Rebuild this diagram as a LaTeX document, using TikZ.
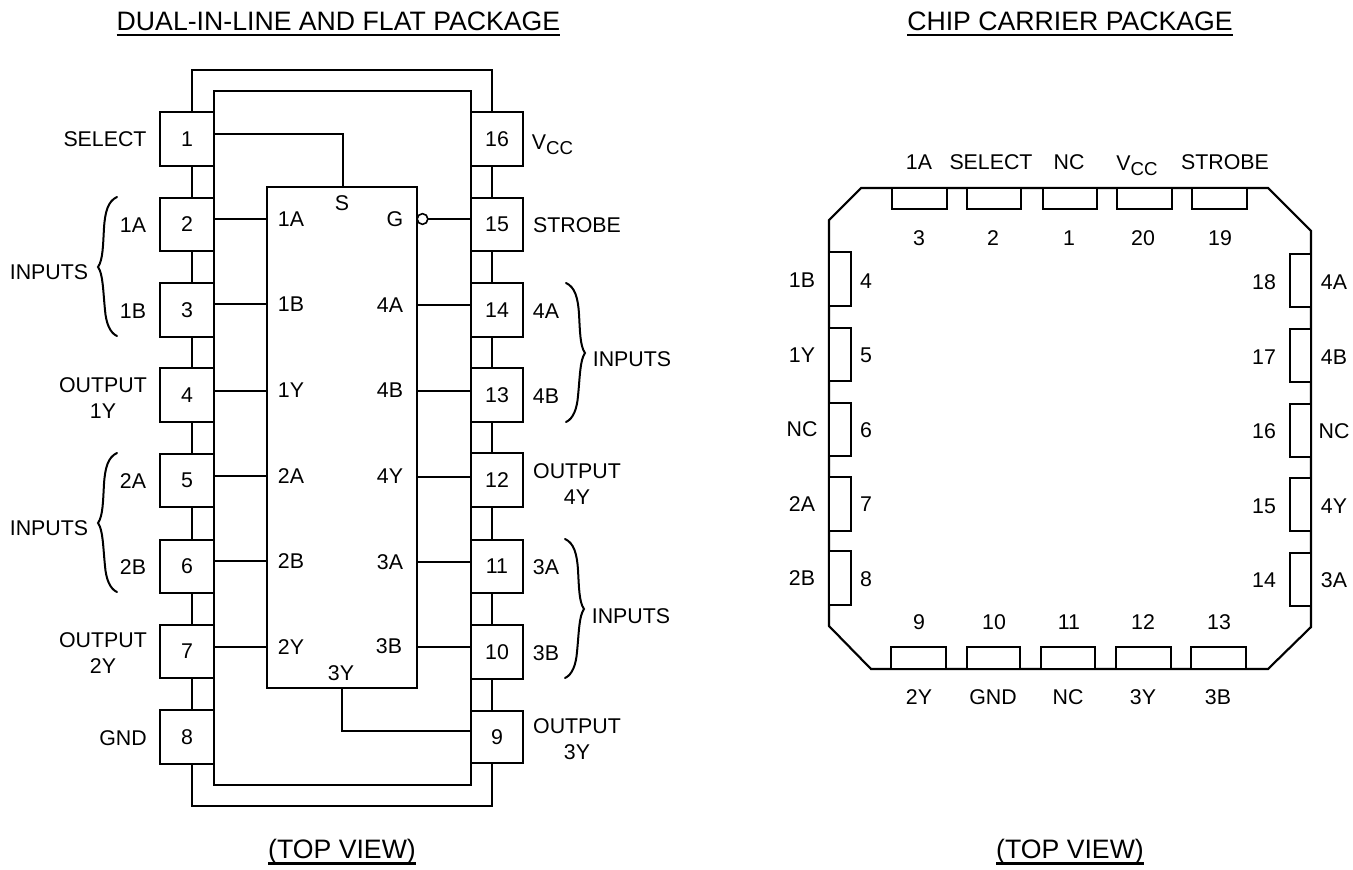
\documentclass[tikz,border=0pt]{standalone}
\usepackage{fontspec}
\setmainfont{Liberation Sans}
\newcommand{\vcc}{V\raisebox{-0.45ex}{\fontsize{14}{14}\selectfont CC}}
\newsavebox{\ttlbox}
\newcommand{\ttl}[1]{\fontsize{20}{24}\selectfont\sbox{\ttlbox}{#1}\rlap{\smash{\raisebox{-4.2pt}{\rule{\wd\ttlbox}{1.7pt}}}}\usebox{\ttlbox}}
\tikzset{
  lbl/.style={inner sep=0pt,outer sep=0pt,align=center,font=\fontsize{16}{19}\selectfont},
  wire/.style={line width=1.7pt,line cap=rect},
  thin wire/.style={line width=1.3pt},
  pinbox/.style={draw,fill=white,line width=1.6pt,inner sep=0pt,outer sep=0pt,font=\fontsize{16}{19}\selectfont},
  bracecurve/.style={line width=1.5pt,line cap=round}
}
\newcommand{\pinnode}[6]{%
  \node[pinbox,minimum width={(#4-#2)*0.75pt},minimum height={(#5-#3)*0.75pt}] (#1) at ({(#2+#4)/2},{(#3+#5)/2}) {#6};}
\newcommand{\bracepath}{(19,-70) .. controls (10,-66) and (7,-55) .. (6,-39) .. controls (5,-22) and (5,-7) .. (0,0) .. controls (5,7) and (5,23) .. (7,43) .. controls (8,56) and (12,66) .. (19,69)}
\begin{document}
\begin{tikzpicture}[x=0.75pt,y=-0.75pt]
\useasboundingbox (0,0) rectangle (1353,870);
% ---------- dual-in-line package
\coordinate (fl) at (192,70);
\coordinate (fr) at (492,806);
\node[draw,line width=1.6pt,inner sep=0pt,outer sep=0pt,minimum width={257*0.75pt},minimum height={694*0.75pt}] (body) at (342.5,438) {};
\node[draw,fill=white,line width=1.6pt,inner sep=0pt,outer sep=0pt,minimum width={150*0.75pt},minimum height={501*0.75pt}] (chip) at (342,437.5) {};
\pinnode{p1}{160}{112}{214}{166}{1}
\pinnode{p2}{160}{198}{214}{251}{2}
\pinnode{p3}{160}{283}{214}{337}{3}
\pinnode{p4}{160}{368}{214}{422}{4}
\pinnode{p5}{160}{454}{214}{507}{5}
\pinnode{p6}{160}{540}{214}{593}{6}
\pinnode{p7}{160}{625}{214}{678}{7}
\pinnode{p8}{160}{710}{214}{764}{8}
\pinnode{p16}{471}{112}{523}{166}{16}
\pinnode{p15}{471}{198}{523}{251}{15}
\pinnode{p14}{471}{283}{523}{337}{14}
\pinnode{p13}{471}{368}{523}{422}{13}
\pinnode{p12}{471}{453}{523}{507}{12}
\pinnode{p11}{471}{540}{523}{593}{11}
\pinnode{p10}{471}{625}{523}{679}{10}
\pinnode{p9}{471}{711}{523}{763}{9}
% outer frame
\draw[wire] (fl |- p1.north) -- (fl) -| (fr |- p16.north);
\draw[wire] (fl |- p8.south) -- (fl |- fr) -- (fr) -- (fr |- p9.south);
\foreach \a/\b in {p1/p2,p2/p3,p3/p4,p4/p5,p5/p6,p6/p7,p7/p8}
  \draw[wire] (fl |- \a.south) -- (fl |- \b.north);
\foreach \a/\b in {p16/p15,p15/p14,p14/p13,p13/p12,p12/p11,p11/p10,p10/p9}
  \draw[wire] (fr |- \a.south) -- (fr |- \b.north);
% inner connections
\coordinate (sel) at (343,134);
\draw[thin wire] (sel -| p1.east) -- (sel) -- (sel |- chip.north);
\foreach \p/\y in {p2/219,p3/304,p4/391,p5/476,p6/561,p7/647}
  \draw[thin wire] (chip.west |- 0,\y) -- (\p.east |- 0,\y);
\foreach \p/\y in {p14/305,p13/391,p12/477,p11/562,p10/647}
  \draw[thin wire] (chip.east |- 0,\y) -- (\p.west |- 0,\y);
\node[circle,draw,fill=white,line width=1.2pt,inner sep=0pt,outer sep=0pt,minimum size=8pt] (bub) at (422.5,219) {};
\draw[thin wire] (bub.east) -- (bub.east -| p15.west);
\coordinate (oy) at (342,731);
\draw[thin wire] (oy |- chip.south) -- (oy) -- (oy -| p9.west);
% braces
\begin{scope}[shift={(98,267)}]\draw[bracecurve] \bracepath;\end{scope}
\begin{scope}[shift={(98,523)}]\draw[bracecurve] \bracepath;\end{scope}
\begin{scope}[shift={(585,353)},xscale=-1]\draw[bracecurve] \bracepath;\end{scope}
\begin{scope}[shift={(584,609)},xscale=-1]\draw[bracecurve] \bracepath;\end{scope}
% ---------- chip carrier
\draw[line width=1.6pt,line join=miter] (861,188) coordinate (oa) -- (1268,188) -- (1311,231) -- (1311,627) -- (1268,669) -- (871,669) -- (829,626) -- (829,220) -- cycle;
\foreach \n/\a/\b in {c3/892/947,c2/967/1021,c1/1043/1097,c20/1117/1172,c19/1192/1247}
  {\pinnode{\n}{\a}{188}{\b}{209}{}}
\foreach \n/\a/\b in {c9/891/946,c10/967/1020,c11/1041/1095,c12/1116/1171,c13/1191/1246}
  {\pinnode{\n}{\a}{647}{\b}{669}{}}
\foreach \n/\a/\b in {c4/252/306,c5/328/381,c6/403/456,c7/477/531,c8/551/605}
  {\pinnode{\n}{829}{\a}{851}{\b}{}}
\foreach \n/\a/\b in {c18/254/307,c17/329/382,c16/404/457,c15/478/531,c14/553/606}
  {\pinnode{\n}{1290}{\a}{1311}{\b}{}}
% ---------- texts
\foreach \x/\y/\s [count=\k] in {
  338.5/21/{\ttl{DUAL-IN-LINE AND FLAT PACKAGE}},
  1070/21/{\ttl{CHIP CARRIER PACKAGE}},
  342/852/{\ttl{(TOP VIEW)}},
  1070/852/{\ttl{(TOP VIEW)}},
  105/139/SELECT,133/225/1A,133/311/1B,49/272/INPUTS,
  103/398/{OUTPUT\\1Y},133/481/2A,133/567/2B,49/528/INPUTS,
  103/653/{OUTPUT\\2Y},123/738/GND,
  552.5/145/{\vcc},577/225/STROBE,546/311/4A,546/396/4B,632/359/INPUTS,
  577/484/{OUTPUT\\4Y},546/567/3A,546/653/3B,631/616/INPUTS,
  577/739/{OUTPUT\\3Y},
  342/203/S,291/219/1A,291/304/1B,291/390/1Y,291/476/2A,291/561/2B,291/647/2Y,
  395/219/G,390/305/4A,390/390/4B,390/476/4Y,390/562/3A,389/646/3B,341/673/3Y,
  919/162/1A,991/162/SELECT,1069/162/NC,1137/166/{\vcc},1225/162/STROBE,
  919/238/3,993/238/2,1069/238/1,1143/238/20,1220/238/19,
  802/280/1B,866/281/4,802/355/1Y,866/355/5,802/429/NC,866/430/6,802/504/2A,866/504/7,802/578/2B,866/579/8,
  1264/282/18,1334/282/4A,1264/357/17,1334/357/4B,1264/431/16,1334/431/NC,1264/506/15,1334/506/4Y,1264/580/14,1334/580/3A,
  919/622/9,994/622/10,1069/622/11,1143/622/12,1219/622/13,
  919/697/2Y,993/697/GND,1068/697/NC,1143/697/3Y,1218/697/3B}
  {\node[lbl] (t\k) at (\x,\y) {\s};}
\end{tikzpicture}
\end{document}
